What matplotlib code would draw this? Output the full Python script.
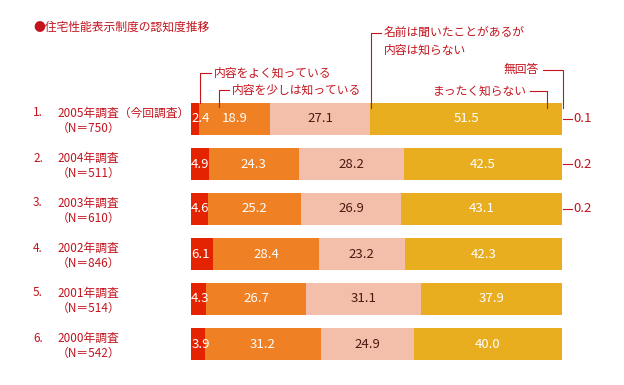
import matplotlib
matplotlib.use("Agg")
import matplotlib.pyplot as plt

plt.rcParams["font.family"] = ["Noto Sans CJK JP", "DejaVu Sans"]

# --- data ---
ranks = ["1.", "2.", "3.", "4.", "5.", "6."]
surveys = ["2005年調査（今回調査）", "2004年調査", "2003年調査",
           "2002年調査", "2001年調査", "2000年調査"]
sample_n = [750, 511, 610, 846, 514, 542]
categories = ["内容をよく知っている", "内容を少しは知っている",
              "名前は聞いたことがあるが\n内容は知らない", "まったく知らない", "無回答"]
know_well = [2.4, 4.9, 4.6, 6.1, 4.3, 3.9]
know_little = [18.9, 24.3, 25.2, 28.4, 26.7, 31.2]
heard_only = [27.1, 28.2, 26.9, 23.2, 31.1, 24.9]
not_know = [51.5, 42.5, 43.1, 42.3, 37.9, 40.0]
no_answer = [0.1, 0.2, 0.2, 0.0, 0.0, 0.0]

seg_colors = ["#E42300", "#F08024", "#F4BFAA", "#E9AE20", "#E8403A"]
text_colors = ["white", "white", "#4A1A10", "white"]
red = "#C3141E"

W, H = 624, 385
fig = plt.figure(figsize=(W / 100, H / 100), dpi=100)
x0, x1 = 190.5, 562.3
top, step = 96.5, 45.0
ax = fig.add_axes([x0 / W, 1 - (top + 6 * step) / H, (x1 - x0) / W, 6 * step / H])
ax.set_xlim(0, 100)
ax.set_ylim(5.5, -0.5)
ax.axis("off")


def dx(px):
    # pixel column -> data x
    return (px - x0) / (x1 - x0) * 100


def dy(py):
    # pixel row -> data y
    return (py - top) / step - 0.5


series = [know_well, know_little, heard_only, not_know, no_answer]
rows = list(range(len(surveys)))
left = [0.0] * len(rows)
bar_h = 32 / step
for k, vals in enumerate(series):
    ax.barh(rows, vals, left=left, height=bar_h, color=seg_colors[k],
            linewidth=0)
    if k < 4:
        for i, v in enumerate(vals):
            if k == 0:
                ax.text(0.2, i, f"{v:.1f}", ha="left", va="center",
                        color=text_colors[k], fontsize=9.5)
            else:
                ax.text(left[i] + v / 2, i, f"{v:.1f}", ha="center",
                        va="center", color=text_colors[k], fontsize=9.5)
    left = [a + b for a, b in zip(left, vals)]

# no-answer values on the right
for i, v in enumerate(no_answer):
    if v > 0:
        ax.plot([dx(563), dx(572)], [i, i], color=red, lw=0.8, clip_on=False)
        ax.text(dx(573), i, f"{v:.1f}", ha="left", va="center",
                color=red, fontsize=9.5, clip_on=False)

# row labels
for i, (r, s, n) in enumerate(zip(ranks, surveys, sample_n)):
    ax.text(dx(33), i - 2.5 / step, r, ha="left", va="baseline", color=red,
            fontsize=8.5, clip_on=False)
    ax.text(dx(57), i - 2.5 / step, s, ha="left", va="baseline", color=red,
            fontsize=8.5, clip_on=False)
    ax.text(dx(57), i + 12.5 / step, f"（N＝{n}）", ha="left", va="baseline",
            color=red, fontsize=8.5, clip_on=False)

# title
ax.text(dx(33), dy(27), "●住宅性能表示制度の認知度推移", ha="left", va="center",
        color=red, fontsize=8.5, clip_on=False)

# category leader lines
bar_top = 103


def leader(vx, hy, hx_end, tx, label, ha, vy_end=108, va_y=None):
    ax.plot([dx(vx), dx(vx), dx(hx_end)], [dy(vy_end), dy(hy), dy(hy)],
            color=red, lw=0.8, clip_on=False)
    ax.text(dx(tx), dy(hy if va_y is None else va_y), label, ha=ha,
            va="center", color=red, fontsize=8.5, clip_on=False,
            linespacing=1.45)


leader(200, 73, 211, 214, categories[0], "left", vy_end=bar_top)
leader(219, 90, 229, 232, categories[1], "left", vy_end=107)
leader(371, 33, 381, 384, categories[2], "left", va_y=41.5)
leader(547, 91, 530, 527, categories[3], "right")
leader(562.5, 70, 543, 539, categories[4], "right")

fig.savefig("out.png", dpi=100, facecolor="white")
